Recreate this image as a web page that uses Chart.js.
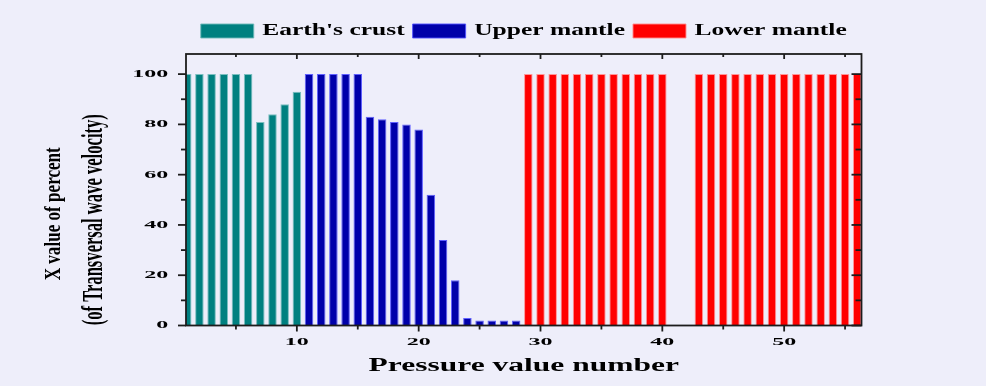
<!DOCTYPE html>
<html>
<head>
<meta charset="utf-8">
<script src="https://cdn.jsdelivr.net/npm/chart.js@4.4.1/dist/chart.umd.min.js"></script>
<style>
  html, body { margin: 0; padding: 0; background: #EEEEFA; }
  #wrap { width: 986px; height: 386px; }
  canvas { display: block; }
</style>
</head>
<body>
<div id="wrap"><canvas id="c" width="986" height="386"></canvas></div>
<script>
// ---- data ----
const seriesNames = ["Earth's crust", "Upper mantle", "Lower mantle"];
const crustX = [1, 2, 3, 4, 5, 6, 7, 8, 9, 10];
const crustValues = [100, 100, 100, 100, 100, 100, 81, 84, 88, 93];
const upperX = [11, 12, 13, 14, 15, 16, 17, 18, 19, 20, 21, 22, 23, 24, 25, 26, 27, 28];
const upperValues = [100, 100, 100, 100, 100, 83, 82, 81, 80, 78, 52, 34, 18, 3, 2, 2, 2, 2];
const lowerX = [29, 30, 31, 32, 33, 34, 35, 36, 37, 38, 39, 40, 43, 44, 45, 46, 47, 48, 49, 50, 51, 52, 53, 54, 55, 56];
const lowerValues = [100, 100, 100, 100, 100, 100, 100, 100, 100, 100, 100, 100, 100, 100, 100, 100, 100, 100, 100, 100, 100, 100, 100, 100, 100, 100];
const xTickLabels = ['10', '20', '30', '40', '50'];
const yTickLabels = ['0', '20', '40', '60', '80', '100'];
const xTitle = 'Pressure value number';
const yTitleLines = ['X value of percent', '(of Transversal wave velocity)'];

// horizontal stretch of the reference's lettering, keyed by font size (px)
const TEXT_STRETCH = { '11': 2.18, '17': 1.5, '18': 1.75 };

const canvas = document.getElementById('c');
const ctx = canvas.getContext('2d');
(function patch(c) {
  const fill = c.fillText.bind(c);
  const measure = c.measureText.bind(c);
  const sxFor = () => {
    const m = /(\d+(?:\.\d+)?)px/.exec(c.font);
    return m && TEXT_STRETCH[m[1]] ? TEXT_STRETCH[m[1]] : 1;
  };
  c.fillText = function (text, x, y, maxWidth) {
    const sx = sxFor();
    if (sx === 1) {
      return maxWidth === undefined ? fill(text, x, y) : fill(text, x, y, maxWidth);
    }
    c.save();
    c.translate(x, y);
    c.scale(sx, 1);
    fill(text, 0, 0);
    c.restore();
  };
  c.measureText = function (text) {
    const m = measure(text);
    const sx = sxFor();
    if (sx === 1) return m;
    return {
      width: m.width * sx,
      actualBoundingBoxAscent: m.actualBoundingBoxAscent,
      actualBoundingBoxDescent: m.actualBoundingBoxDescent,
      actualBoundingBoxLeft: m.actualBoundingBoxLeft * sx,
      actualBoundingBoxRight: m.actualBoundingBoxRight * sx
    };
  };
})(ctx);

const toPoints = (xs, ys) => xs.map((x, i) => ({ x: x, y: ys[i] }));

const frameTicks = {
  id: 'frameTicks',
  afterDatasetsDraw(chart) {
    const { ctx: g, chartArea: a, scales } = chart;
    const x = scales.x, y = scales.y;
    g.save();
    g.strokeStyle = '#1c1c1c';
    g.lineWidth = 1.8;
    const line = (x1, y1, x2, y2) => { g.beginPath(); g.moveTo(x1, y1); g.lineTo(x2, y2); g.stroke(); };
    y.ticks.forEach(t => {
      const py = y.getPixelForValue(t.value);
      const major = t.value % 20 === 0;
      line(a.left - (major ? 8 : 5), py, a.left, py);
      line(a.right - (major ? 10 : 6), py, a.right, py);
    });
    x.ticks.forEach(t => {
      const px = x.getPixelForValue(t.value);
      const major = t.value % 10 === 0;
      line(px, a.bottom, px, a.bottom + (major ? 6 : 4));
      line(px, a.top, px, a.top + (major ? 5 : 3));
    });
    g.strokeRect(a.left, a.top, a.right - a.left, a.bottom - a.top);
    g.restore();
  }
};

const yTitlePlugin = {
  id: 'yTitle',
  afterDraw(chart) {
    const g = chart.ctx;
    const a = chart.chartArea;
    const midY = (a.top + a.bottom) / 2;
    g.save();
    g.fillStyle = '#000';
    g.textAlign = 'center';
    g.textBaseline = 'middle';
    const drawRot = (text, font, x, y, sy) => {
      g.save();
      g.font = font;
      g.translate(x, y);
      g.rotate(-Math.PI / 2);
      g.scale(1, sy);
      g.fillText(text, 0, 0);
      g.restore();
    };
    drawRot(yTitleLines[0], 'bold 17.1px "Liberation Serif"', 54, midY + 24, 1.3);
    drawRot(yTitleLines[1], 'bold 16.6px "Liberation Serif"', 94, midY + 30, 1.8);
    g.restore();
  }
};

const barCommon = { grouped: false, barPercentage: 0.7, categoryPercentage: 1.0, borderWidth: 1, clip: 0 };

new Chart(ctx, {
  type: 'bar',
  data: {
    datasets: [
      Object.assign({ label: seriesNames[0], data: toPoints(crustX, crustValues),
        backgroundColor: '#008080', borderColor: 'rgba(110,185,185,0.9)' }, barCommon),
      Object.assign({ label: seriesNames[1], data: toPoints(upperX, upperValues),
        backgroundColor: '#0000AA', borderColor: 'rgba(80,80,255,0.9)' }, barCommon),
      Object.assign({ label: seriesNames[2], data: toPoints(lowerX, lowerValues),
        backgroundColor: '#FF0000', borderColor: 'rgba(255,140,140,0.9)' }, barCommon)
    ]
  },
  options: {
    responsive: false,
    animation: false,
    devicePixelRatio: 1,
    layout: { padding: { left: 0, right: 124.5, top: 14.5, bottom: 0 } },
    plugins: {
      tooltip: { enabled: false },
      legend: {
        position: 'top',
        fullSize: false,
        align: 'center',
        labels: {
          boxWidth: 53, boxHeight: 14, padding: 8, color: '#000',
          font: { family: '"Liberation Serif"', weight: 'bold', size: 17 }
        }
      }
    },
    scales: {
      x: {
        type: 'linear', position: 'bottom', offset: false,
        min: 0.9, max: 56.35,
        grid: { display: true, drawOnChartArea: false, drawTicks: true, tickLength: 6, tickColor: 'rgba(0,0,0,0)' },
        border: { display: false },
        ticks: {
          stepSize: 5, includeBounds: false, padding: 4, maxRotation: 0, autoSkip: false,
          color: '#000', font: { family: '"Liberation Serif"', weight: 'bold', size: 11 },
          callback: v => xTickLabels.includes(String(v)) ? String(v) : ''
        },
        title: {
          display: true, text: xTitle, color: '#000',
          font: { family: '"Liberation Serif"', weight: 'bold', size: 18 },
          padding: { top: 0, bottom: 8.6 }
        },
        afterFit: s => { s.height = 60.5; }
      },
      xTop: {
        type: 'linear', position: 'top', min: 0.9, max: 56.35,
        grid: { display: false }, border: { display: false },
        ticks: { display: false },
        afterFit: s => { s.height = 4.5; }
      },
      y: {
        type: 'linear', position: 'left', min: 0, max: 108,
        grid: { display: true, drawOnChartArea: false, drawTicks: true, tickLength: 8, tickColor: 'rgba(0,0,0,0)' },
        border: { display: false },
        ticks: {
          stepSize: 10, includeBounds: false, padding: 9.7, autoSkip: false,
          color: '#000', font: { family: '"Liberation Serif"', weight: 'bold', size: 11 },
          callback: v => yTickLabels.includes(String(v)) ? String(v) : ''
        },
        afterFit: s => { s.width = 186; }
      }
    }
  },
  plugins: [frameTicks, yTitlePlugin]
});
</script>
</body>
</html>
